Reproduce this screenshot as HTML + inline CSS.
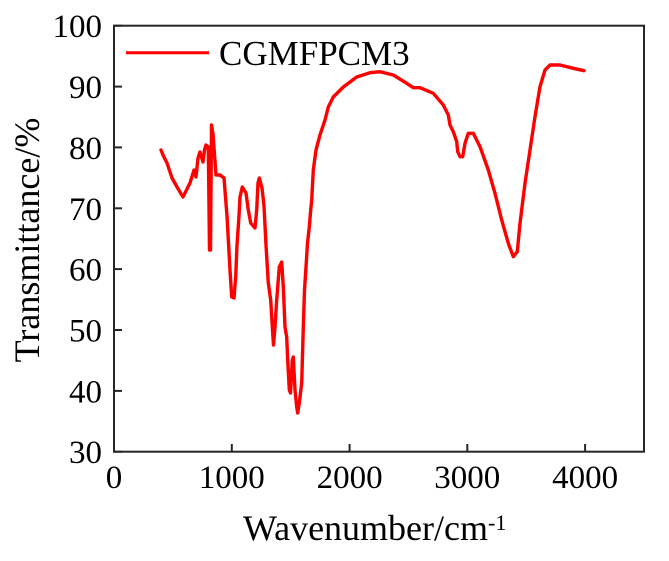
<!DOCTYPE html>
<html>
<head>
<meta charset="utf-8">
<style>
html,body{margin:0;padding:0;background:#fff;}
svg{display:block;}
text{font-family:"Liberation Serif","Times New Roman",serif;fill:#000;}
</style>
</head>
<body>
<svg width="669" height="561" viewBox="0 0 669 561" xmlns="http://www.w3.org/2000/svg">
  <rect x="0" y="0" width="669" height="561" fill="#fff"/>
  <!-- axes box -->
  <rect x="114" y="25.7" width="530" height="426" fill="none" stroke="#262626" stroke-width="2"/>
  <!-- x ticks -->
  <g stroke="#262626" stroke-width="2">
    <line x1="114" y1="451.7" x2="114" y2="444"/>
    <line x1="231.8" y1="451.7" x2="231.8" y2="444"/>
    <line x1="349.6" y1="451.7" x2="349.6" y2="444"/>
    <line x1="467.3" y1="451.7" x2="467.3" y2="444"/>
    <line x1="585.1" y1="451.7" x2="585.1" y2="444"/>
    <!-- y ticks -->
    <line x1="114" y1="25.7" x2="122" y2="25.7"/>
    <line x1="114" y1="86.6" x2="122" y2="86.6"/>
    <line x1="114" y1="147.4" x2="122" y2="147.4"/>
    <line x1="114" y1="208.3" x2="122" y2="208.3"/>
    <line x1="114" y1="269.1" x2="122" y2="269.1"/>
    <line x1="114" y1="330" x2="122" y2="330"/>
    <line x1="114" y1="390.9" x2="122" y2="390.9"/>
    <line x1="114" y1="451.7" x2="122" y2="451.7"/>
  </g>
  <!-- y tick labels -->
  <g font-size="33" text-anchor="end">
    <text x="102" y="37.2">100</text>
    <text x="102" y="98.1">90</text>
    <text x="102" y="158.9">80</text>
    <text x="102" y="219.8">70</text>
    <text x="102" y="280.6">60</text>
    <text x="102" y="341.5">50</text>
    <text x="102" y="402.4">40</text>
    <text x="102" y="463.2">30</text>
  </g>
  <!-- x tick labels -->
  <g font-size="33" text-anchor="middle">
    <text x="114" y="488">0</text>
    <text x="231.8" y="488">1000</text>
    <text x="349.6" y="488">2000</text>
    <text x="467.3" y="488">3000</text>
    <text x="585.1" y="488">4000</text>
  </g>
  <!-- axis titles -->
  <text x="243" y="540" font-size="36">Wavenumber/cm<tspan font-size="22" dy="-10">-1</tspan></text>
  <text x="0" y="0" font-size="36" text-anchor="middle" transform="translate(39,240) rotate(-90)">Transmittance/%</text>
  <!-- legend -->
  <line x1="126" y1="52.7" x2="209" y2="52.7" stroke="#ff0000" stroke-width="3"/>
  <text x="219" y="65" font-size="35">CGMFPCM3</text>
  <!-- series -->
  <path fill="none" stroke="#ff0000" stroke-width="3.4" stroke-linejoin="round" stroke-linecap="round"
    d="M161,150 L163,155 L167,163 L172,178 L177,187 L183,197 L190,183 L194,170 L196,177 L198,158 L200,152 L203,162 L204.5,150 L206,145 L208.3,147 L209.5,250 L210.5,250 L211.5,125 L213,134 L216,175 L220,175 L224,178 L227,216 L230,270 L231.7,297 L234,298 L235.7,277 L237,245 L239,216 L240,197 L242.3,187 L246,193 L248.3,210 L250.7,223 L255,228 L256.7,210 L258,183 L259.3,178 L262,188 L264,206 L266,245 L268.3,283 L270.7,300 L272.7,333 L273.5,345 L275,327 L276.7,300 L279.3,267 L281.7,262 L283.3,287 L285,327 L286.7,337 L287.7,360 L289.3,390 L290.5,393 L292.3,360 L293.3,357 L295,390 L296.7,407 L297.7,413 L299.3,403 L301.7,383 L303.3,327 L304.5,290 L306,267 L307.5,243 L309.3,227 L310.7,210 L311.7,200 L313.3,170 L316,150 L320,135 L325,120 L328.3,107 L333.3,97 L343.3,87 L356.7,77 L370,72.7 L380,71.7 L393.3,75 L406.7,83.3 L413.3,87.7 L420,87.7 L433.3,93.3 L443.3,105 L448.3,115 L450,125 L453.3,131.7 L456.7,141.7 L457.7,151.7 L460,156.7 L462.7,156.7 L465,143.3 L468.3,133.3 L473.3,133.3 L480,146.7 L488.3,170 L495,193.3 L501.7,220 L508.3,243.3 L513.3,256.7 L517.3,251.7 L520,223.3 L525,183.3 L530,150 L535,116.7 L540,86.7 L545,70 L550,65 L560,65 L573.3,68.3 L584,70.7"/>
</svg>
</body>
</html>
